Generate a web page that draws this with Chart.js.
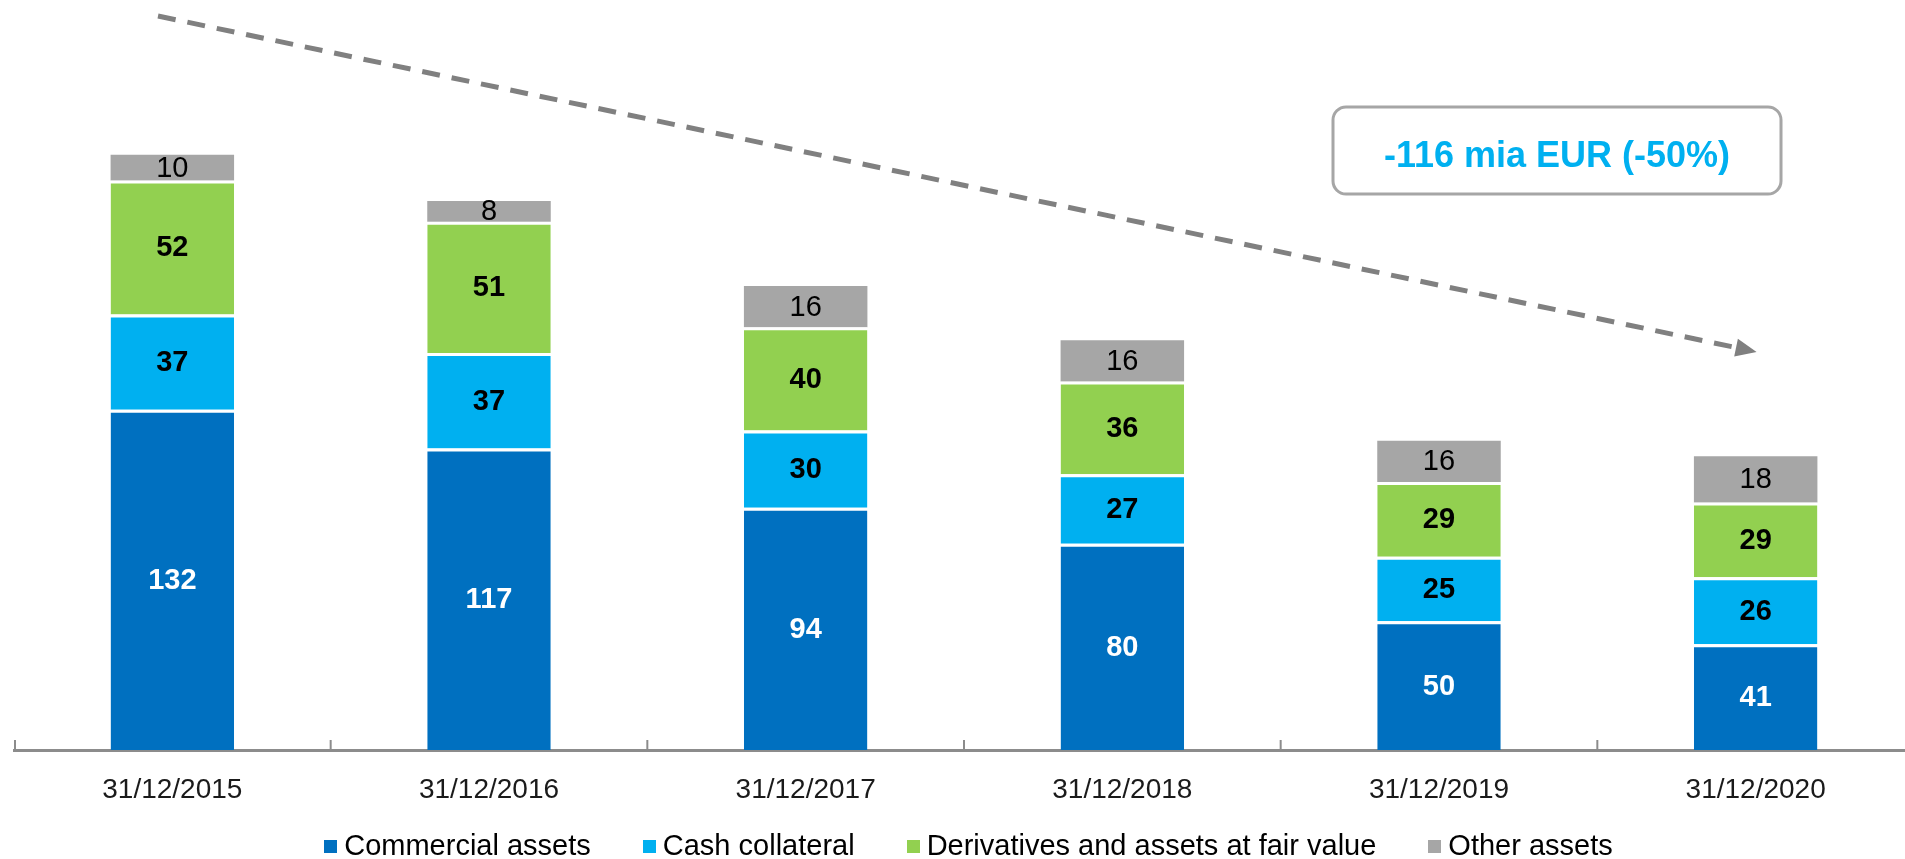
<!DOCTYPE html>
<html>
<head>
<meta charset="utf-8">
<script src="https://cdn.jsdelivr.net/npm/chart.js@4.4.1/dist/chart.umd.min.js"></script>
<style>
  html, body { margin: 0; padding: 0; background: #fff; overflow: hidden; }
  #wrap { width: 1914px; height: 859px; position: relative; }
  #legend {
    position: absolute; left: 16px; top: 827px; width: 1905px; height: 36px;
    display: flex; justify-content: center; align-items: center; gap: 52px;
    font-family: "Liberation Sans", Arial, sans-serif; font-size: 29px; color: #000;
  }
  #legend .item { display: flex; align-items: center; white-space: nowrap; }
  #legend .box { width: 13px; height: 13px; margin-right: 7px; margin-top: 2px; }
</style>
</head>
<body>
<div id="wrap"><canvas id="myChart"></canvas></div>
<div id="legend"></div>
<script>
var categories = ['31/12/2015', '31/12/2016', '31/12/2017', '31/12/2018', '31/12/2019', '31/12/2020'];
var commercialAssets = [132, 117, 94, 80, 50, 41];
var cashCollateral = [37, 37, 30, 27, 25, 26];
var derivatives = [52, 51, 40, 36, 29, 29];
var otherAssets = [10, 8, 16, 16, 16, 18];
var seriesNames = ['Commercial assets', 'Cash collateral', 'Derivatives and assets at fair value', 'Other assets'];
var seriesColors = ['#0070C0', '#00B0F0', '#92D050', '#A6A6A6'];
var labelColors = ['#ffffff', '#000000', '#000000', '#000000'];
var labelWeights = ['bold', 'bold', 'bold', 'normal'];
var calloutText = '-116 mia EUR (-50%)';

var FONT = '"Liberation Sans", Arial, sans-serif';

// numbers inside each stacked segment
var segmentLabels = {
  id: 'segmentLabels',
  afterDatasetsDraw: function(chart) {
    var ctx = chart.ctx;
    chart.data.datasets.forEach(function(ds, i) {
      var meta = chart.getDatasetMeta(i);
      meta.data.forEach(function(bar, j) {
        var y = (bar.y + bar.base) / 2;
        ctx.save();
        ctx.font = labelWeights[i] + ' 29px ' + FONT;
        ctx.fillStyle = labelColors[i];
        ctx.textAlign = 'center';
        ctx.textBaseline = 'middle';
        ctx.fillText(ds.data[j], bar.x, y + 1);
        ctx.restore();
      });
    });
  }
};

// axis tick marks, trend arrow and callout box
var decorations = {
  id: 'decorations',
  afterDraw: function(chart) {
    var ctx = chart.ctx;
    var xs = chart.scales.x;
    var area = chart.chartArea;
    ctx.save();
    ctx.strokeStyle = '#8c8c8c';
    ctx.lineWidth = 2;
    for (var i = 0; i < categories.length; i++) {
      var bx = i === 0 ? area.left + 1 : (xs.getPixelForValue(i - 1) + xs.getPixelForValue(i)) / 2;
      ctx.beginPath();
      ctx.moveTo(bx, area.bottom);
      ctx.lineTo(bx, area.bottom - 10);
      ctx.stroke();
    }

    // dashed trend arrow
    var x1 = 158, y1 = 16, x2 = 1738, y2 = 348;
    ctx.strokeStyle = '#808080';
    ctx.lineWidth = 5;
    ctx.setLineDash([18, 12]);
    ctx.beginPath();
    ctx.moveTo(x1, y1);
    ctx.lineTo(x2, y2);
    ctx.stroke();
    ctx.setLineDash([]);
    var ang = Math.atan2(y2 - y1, x2 - x1);
    ctx.fillStyle = '#808080';
    ctx.beginPath();
    ctx.translate(x2, y2);
    ctx.rotate(ang);
    ctx.moveTo(19, 0);
    ctx.lineTo(-2, -9);
    ctx.lineTo(-2, 9);
    ctx.closePath();
    ctx.fill();
    ctx.setTransform(1, 0, 0, 1, 0, 0);

    // callout box
    ctx.strokeStyle = '#a6a6a6';
    ctx.lineWidth = 3;
    ctx.beginPath();
    ctx.roundRect(1333, 107, 448, 87, 13);
    ctx.stroke();
    ctx.font = 'bold 36px ' + FONT;
    ctx.fillStyle = '#00B0F0';
    ctx.textAlign = 'center';
    ctx.textBaseline = 'middle';
    ctx.fillText(calloutText, 1557, 157);
    ctx.restore();
  }
};

var seriesData = [commercialAssets, cashCollateral, derivatives, otherAssets];
var datasets = seriesData.map(function(d, i) {
  return {
    label: seriesNames[i],
    data: d,
    backgroundColor: seriesColors[i],
    borderColor: '#ffffff',
    borderWidth: i < 3 ? { top: 3, left: 0, right: 0, bottom: 0 } : 0,
    borderSkipped: false,
    barPercentage: 0.39,
    categoryPercentage: 1.0
  };
});

var ctx = document.getElementById('myChart').getContext('2d');
var myChart = new Chart(ctx, {
  type: 'bar',
  data: { labels: categories, datasets: datasets },
  options: {
    responsive: true,
    maintainAspectRatio: false,
    animation: false,
    layout: { padding: { left: 14, right: 0, top: 0, bottom: 29 } },
    scales: {
      x: {
        stacked: true,
        grid: { display: false, drawTicks: false },
        border: { display: true, color: '#8c8c8c', width: 3 },
        ticks: { color: '#1a1a1a', font: { family: FONT, size: 28 }, padding: 23 },
        afterFit: function(scale) { scale.height = 80; }
      },
      y: {
        stacked: true,
        display: false,
        min: 0,
        max: 291
      }
    },
    plugins: {
      tooltip: { enabled: false },
      legend: { display: false }
    }
  },
  plugins: [segmentLabels, decorations]
});

// html legend built from the chart's datasets
var legendEl = document.getElementById('legend');
myChart.data.datasets.forEach(function(ds) {
  var item = document.createElement('div');
  item.className = 'item';
  var box = document.createElement('span');
  box.className = 'box';
  box.style.background = ds.backgroundColor;
  item.appendChild(box);
  item.appendChild(document.createTextNode(ds.label));
  legendEl.appendChild(item);
});
</script>
</body>
</html>
